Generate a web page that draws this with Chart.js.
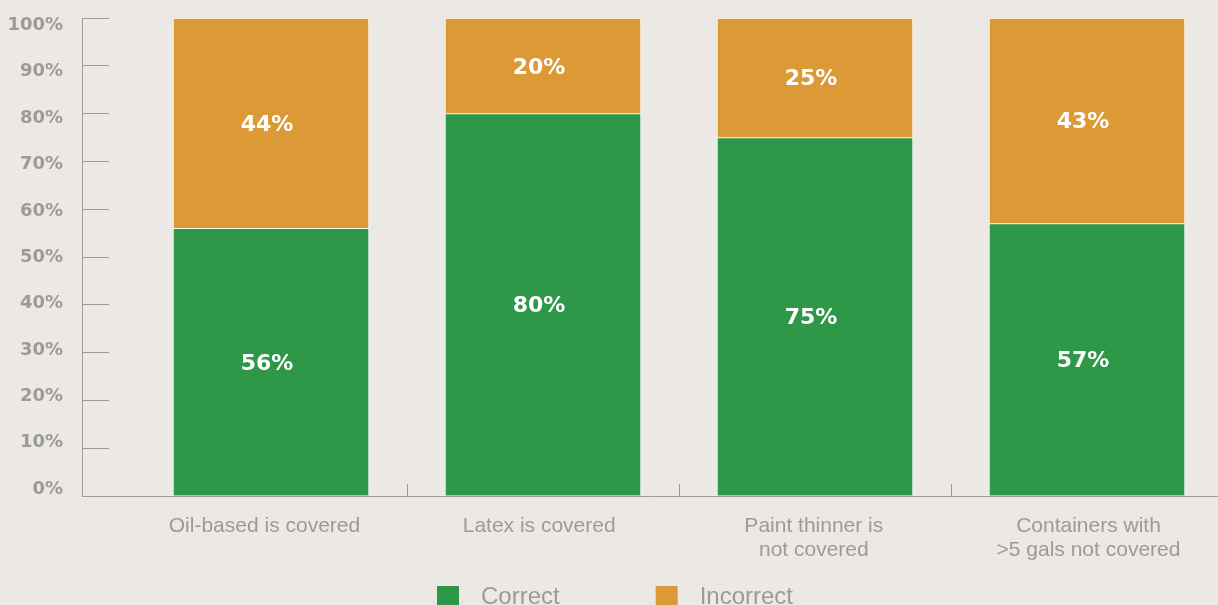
<!DOCTYPE html>
<html>
<head>
<meta charset="utf-8">
<script src="https://cdn.jsdelivr.net/npm/chart.js@4.4.1/dist/chart.umd.min.js"></script>
<style>
  html, body { margin: 0; padding: 0; background: #ece8e3; overflow: hidden; }
  #wrap { position: relative; width: 1218px; height: 619px; }
</style>
</head>
<body>
<div id="wrap"><canvas id="chart"></canvas></div>
<script>
// Survey answers: share of respondents who answered each statement correctly
const categories = [
  ['Oil-based is covered'],
  ['Latex is covered'],
  ['Paint thinner is', 'not covered'],
  ['Containers with', '>5 gals not covered']
];
const correct = [56, 80, 75, 57];
const incorrect = [44, 20, 25, 43];
const seriesNames = ['Correct', 'Incorrect'];
const percentTicks = [0, 10, 20, 30, 40, 50, 60, 70, 80, 90, 100];

const GREEN = '#2e9748';
const ORANGE = '#db9a35';
const GRAY = '#9b9b9b';
const SANS = '"Liberation Sans", Arial, sans-serif';
const BOLD = '"DejaVu Sans", sans-serif';

const toPoints = values => values.map((v, i) => ({ x: i, y: v }));

// Legend swatch: a 22px square near the right end of a wider transparent strip
const SWATCH_W = 104;
function swatch(color) {
  const c = document.createElement('canvas');
  c.width = SWATCH_W; c.height = 22;
  const g = c.getContext('2d');
  g.fillStyle = color;
  g.fillRect(SWATCH_W - 32, 0, 22, 22);
  return c;
}

// White percentage text in the middle of each bar segment
const segmentLabels = {
  id: 'segmentLabels',
  afterDatasetsDraw(chart) {
    const ctx = chart.ctx;
    ctx.save();
    ctx.font = 'bold 22px ' + BOLD;
    ctx.fillStyle = '#ffffff';
    ctx.textAlign = 'center';
    ctx.textBaseline = 'middle';
    chart.data.datasets.forEach((ds, di) => {
      chart.getDatasetMeta(di).data.forEach((el, i) => {
        const { x, y, base } = el.getProps(['x', 'y', 'base'], true);
        ctx.fillText(ds.data[i].y + '%', x - 4, (y + base) / 2 + 2);
      });
    });
    ctx.restore();
  }
};

const barStyle = {
  borderColor: 'rgba(255,255,255,0.9)',
  borderWidth: 1,
  barThickness: 196
};

new Chart(document.getElementById('chart'), {
  type: 'bar',
  data: {
    datasets: [
      { label: seriesNames[0], data: toPoints(correct), backgroundColor: GREEN, ...barStyle },
      { label: seriesNames[1], data: toPoints(incorrect), backgroundColor: ORANGE, ...barStyle }
    ]
  },
  plugins: [segmentLabels],
  options: {
    responsive: true,
    maintainAspectRatio: false,
    animation: false,
    events: [],
    layout: { padding: { top: 18, left: 0, right: 0, bottom: 0 } },
    plugins: {
      tooltip: { enabled: false },
      legend: {
        position: 'bottom',
        labels: {
          usePointStyle: true,
          pointStyleWidth: SWATCH_W,
          padding: 24,
          color: GRAY,
          font: { family: SANS, size: 24 },
          generateLabels(chart) {
            const items = Chart.defaults.plugins.legend.labels.generateLabels(chart);
            items.forEach(item => { item.pointStyle = swatch(item.fillStyle); });
            // trailing room after the last entry keeps the row where it belongs
            items[items.length - 1].text += ' '.repeat(9);
            return items;
          }
        }
      }
    },
    scales: {
      // bar position axis: border line with short inward marks between groups
      x: {
        type: 'linear',
        stacked: true,
        offset: false,
        min: -0.6949,
        max: 3.4816,
        weight: 0,
        afterBuildTicks: s => { s.ticks = [0.5, 1.5, 2.5].map(v => ({ value: v })); },
        afterFit: s => { s.height = 0; },
        ticks: { display: false },
        grid: { display: true, offset: false, drawOnChartArea: false, drawTicks: true, tickLength: -12, color: GRAY, lineWidth: 1 },
        border: { display: true, color: GRAY, width: 1 }
      },
      // category names under the bars
      xl: {
        type: 'linear',
        axis: 'x',
        position: 'bottom',
        offset: false,
        min: -0.6644,
        max: 3.4715,
        weight: 1,
        afterBuildTicks: s => { s.ticks = categories.map((c, i) => ({ value: i })); },
        afterFit: s => { s.height = 65; },
        grid: { display: false, offset: false, drawTicks: false },
        border: { display: false },
        ticks: {
          autoSkip: false,
          maxRotation: 0,
          padding: 18,
          color: GRAY,
          font: { family: SANS, size: 21, lineHeight: 1.15 },
          callback: (v, i) => categories[i]
        }
      },
      // value axis: border line with inward tick marks
      y: {
        type: 'linear',
        stacked: true,
        min: 0,
        max: 100,
        weight: 0,
        afterBuildTicks: s => { s.ticks = percentTicks.map(v => ({ value: v })); },
        afterFit: s => { s.width = 0; },
        ticks: { display: false },
        grid: { display: true, drawOnChartArea: false, drawTicks: true, tickLength: -27, color: GRAY, lineWidth: 1 },
        border: { display: true, color: GRAY, width: 1 }
      },
      // percentage labels
      yl: {
        type: 'linear',
        axis: 'y',
        position: 'left',
        min: -1.466,
        max: 101.57,
        weight: 1,
        afterBuildTicks: s => { s.ticks = percentTicks.map(v => ({ value: v })); },
        afterFit: s => { s.width = 82; },
        grid: { display: false, drawTicks: true, tickLength: 17 },
        border: { display: false },
        ticks: {
          padding: 2,
          color: GRAY,
          font: { family: BOLD, size: 18, weight: 'bold' },
          callback: v => v + '%'
        }
      }
    }
  }
});
</script>
</body>
</html>
